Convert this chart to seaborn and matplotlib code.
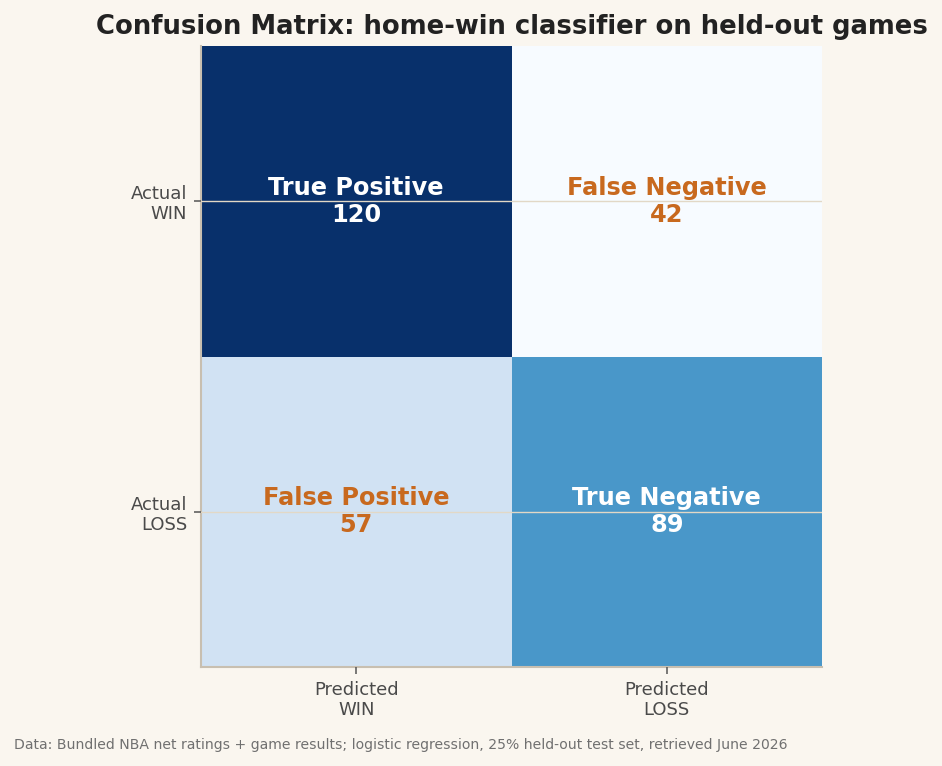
import numpy as np
import pandas as pd
import seaborn as sns
import matplotlib
matplotlib.use("Agg")
import matplotlib.pyplot as plt
from matplotlib.transforms import ScaledTranslation

# Data
row_labels = ["Actual\nWIN", "Actual\nLOSS"]
col_labels = ["Predicted\nWIN", "Predicted\nLOSS"]
counts = [[120, 42],
          [57, 89]]
cell_names = [["True Positive", "False Negative"],
              ["False Positive", "True Negative"]]

title = "Confusion Matrix: home-win classifier on held-out games"
footer = "Data: Bundled NBA net ratings + game results; logistic regression, 25% held-out test set, retrieved June 2026"

BG = "#faf6ef"
ORANGE = "#c8691e"

sns.set_theme(style="white")
plt.rcParams["font.family"] = ["DejaVu Sans"]

df = pd.DataFrame(counts, index=row_labels, columns=col_labels)
annot = np.array([[f"{cell_names[i][j]}\n{counts[i][j]}" for j in range(2)] for i in range(2)])

fig = plt.figure(figsize=(9.42, 7.66), dpi=100, facecolor=BG)
ax = fig.add_axes([201/942, 1-667/766, 621/942, 621/766])
ax.set_facecolor(BG)

sns.heatmap(df, ax=ax, cmap="Blues", vmin=min(min(r) for r in counts), vmax=max(max(r) for r in counts),
            annot=annot, fmt="", cbar=False, square=False,
            annot_kws={"fontsize": 17.3, "fontweight": "bold"})

vals = np.array(counts, dtype=float)
norm = (vals - vals.min()) / (vals.max() - vals.min())
for t, v in zip(ax.texts, norm.flatten()):
    t.set_color("white" if v > 0.4 else ORANGE)
    t.set_linespacing(1.15)

ax.set_axisbelow(False)
ax.grid(True, axis="y", color="#e2d8c6", linewidth=1.0)
ax.grid(False, axis="x")

for side in ["left", "bottom"]:
    ax.spines[side].set_visible(True)
    ax.spines[side].set_color("#c8bfb0")
    ax.spines[side].set_linewidth(1.5)
for side in ["top", "right"]:
    ax.spines[side].set_visible(False)

ax.tick_params(axis="both", which="both", length=5, width=1.1, color="#555555",
               labelsize=13, labelcolor="#4a4a4a", left=True, bottom=True)
ax.tick_params(axis="y", pad=5)
ax.tick_params(axis="x", pad=5)
plt.setp(ax.get_yticklabels(), rotation=0, ha="right", multialignment="right", linespacing=1.16)
plt.setp(ax.get_xticklabels(), rotation=0, ha="center", linespacing=1.16)
shift = ScaledTranslation(0, -3/100, fig.dpi_scale_trans)
for lab in ax.get_yticklabels():
    lab.set_transform(lab.get_transform() + shift)
ax.set_xlabel("")
ax.set_ylabel("")

ax.set_title(title, fontsize=18.6, fontweight="bold", color="#222222", pad=9)
fig.text(14/942, 1-745/766, footer, fontsize=10.1, color="#707070", ha="left", va="center")

fig.savefig("out.png", dpi=100, facecolor=BG)
